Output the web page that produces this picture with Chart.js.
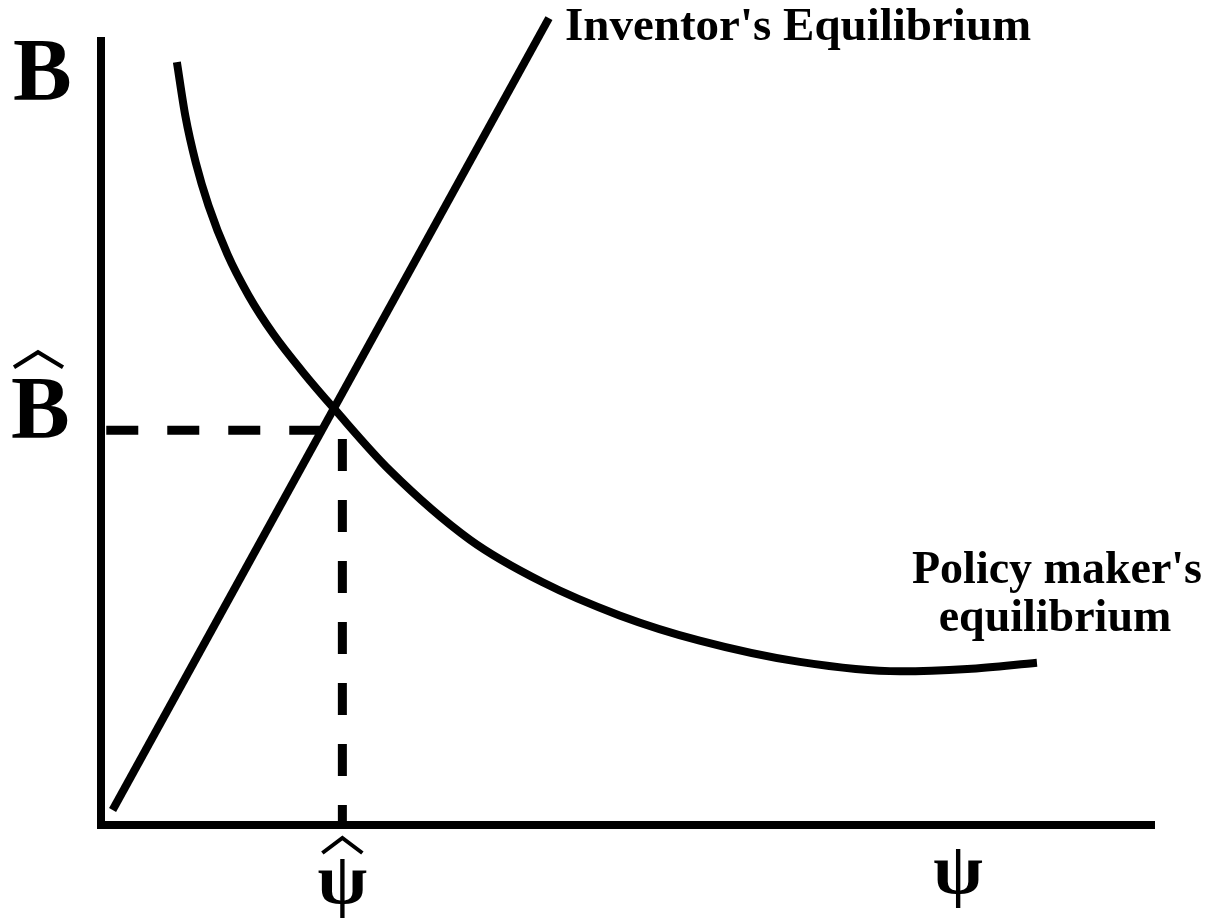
<!DOCTYPE html>
<html>
<head>
<meta charset="utf-8">
<script src="https://cdn.jsdelivr.net/npm/chart.js@4.4.0/dist/chart.umd.min.js"></script>
<style>
  html, body { margin: 0; padding: 0; background: #fff; }
  #wrap { width: 1211px; height: 919px; }
</style>
</head>
<body>
<div id="wrap"><canvas id="myChart" width="1211" height="919"></canvas></div>
<script>
// values, x = psi (0..10), y = B (0..10)
var inventorX = [0.11, 4.25];
var inventorY = [0.19, 10.24];

var policyX = [0.72, 0.80, 0.90, 1.02, 1.20, 1.40, 1.63, 1.92, 2.22, 2.74, 3.50, 4.19, 4.92, 5.68, 6.63, 7.58, 8.22, 8.88];
var policyY = [9.68, 9.00, 8.40, 7.86, 7.24, 6.72, 6.24, 5.74, 5.27, 4.50, 3.62, 3.08, 2.66, 2.34, 2.07, 1.95, 1.98, 2.06];

// equilibrium guides
var psiHat = 2.29;
var bHat = 5.01;
var guideStartX = 0.05;
var guideStartY = 4.90;

var psiLabelX = 8.13;
var bLabelY = 9.6;

function pts(xs, ys) {
    return xs.map(function (x, i) { return { x: x, y: ys[i] }; });
}

var serif = '"Liberation Serif", "Times New Roman", serif';

var labelsPlugin = {
    id: 'labels',
    beforeDatasetsDraw: function (chart) {
        var ctx = chart.ctx;
        var a = chart.chartArea;
        ctx.save();
        ctx.strokeStyle = '#000';
        ctx.lineWidth = 8;
        ctx.lineCap = 'butt';
        ctx.beginPath();
        ctx.moveTo(a.left, a.top);
        ctx.lineTo(a.left, a.bottom + 4);
        ctx.moveTo(a.left - 4, a.bottom);
        ctx.lineTo(a.right, a.bottom);
        ctx.stroke();
        ctx.restore();
    },
    afterDraw: function (chart) {
        var ctx = chart.ctx;
        var xs = chart.scales.x, ys = chart.scales.y;
        ctx.save();
        ctx.fillStyle = '#000';
        ctx.strokeStyle = '#000';
        ctx.textBaseline = 'alphabetic';

        // y axis labels
        ctx.font = 'bold 88px ' + serif;
        ctx.textAlign = 'left';
        ctx.fillText('B', 13, ys.getPixelForValue(bLabelY) + 30);
        var bhY = ys.getPixelForValue(bHat) + 7;
        ctx.fillText('B', 11, bhY);
        ctx.lineWidth = 4;
        ctx.beginPath();
        ctx.moveTo(14, bhY - 70);
        ctx.lineTo(38, bhY - 85);
        ctx.lineTo(63, bhY - 70);
        ctx.stroke();

        // x axis labels
        ctx.font = 'bold 72px ' + serif;
        ctx.textAlign = 'center';
        var phX = xs.getPixelForValue(psiHat);
        ctx.fillText('\u03c8', phX, 903);
        ctx.beginPath();
        ctx.moveTo(phX - 20, 853);
        ctx.lineTo(phX, 838);
        ctx.lineTo(phX + 20, 853);
        ctx.stroke();
        ctx.fillText('\u03c8', xs.getPixelForValue(psiLabelX), 893);

        // curve labels
        ctx.font = 'bold 47px ' + serif;
        ctx.textAlign = 'left';
        ctx.fillText("Inventor's Equilibrium", 565, 40);
        ctx.font = 'bold 46px ' + serif;
        ctx.textAlign = 'center';
        ctx.fillText("Policy maker's", 1057, 583);
        ctx.fillText('equilibrium', 1055, 631);
        ctx.restore();
    }
};

var ctx = document.getElementById('myChart');
var myChart = new Chart(ctx, {
    type: 'scatter',
    data: {
        datasets: [
            {
                label: "Inventor's Equilibrium",
                data: pts(inventorX, inventorY),
                showLine: true,
                borderColor: '#000',
                borderWidth: 8,
                pointRadius: 0,
                clip: false
            },
            {
                label: "Policy maker's equilibrium",
                data: pts(policyX, policyY),
                showLine: true,
                borderColor: '#000',
                borderWidth: 8,
                pointRadius: 0,
                cubicInterpolationMode: 'monotone',
                clip: false
            },
            {
                label: 'B hat',
                data: pts([guideStartX, psiHat], [bHat, bHat]),
                showLine: true,
                borderColor: '#000',
                borderWidth: 9,
                borderDash: [32, 29],
                pointRadius: 0,
                clip: false
            },
            {
                label: 'psi hat',
                data: pts([psiHat, psiHat], [guideStartY, 0]),
                showLine: true,
                borderColor: '#000',
                borderWidth: 9,
                borderDash: [32, 29],
                pointRadius: 0,
                clip: false
            }
        ]
    },
    options: {
        responsive: false,
        animation: false,
        layout: { padding: { left: 101, right: 56, top: 37, bottom: 94 } },
        plugins: {
            legend: { display: false },
            tooltip: { enabled: false }
        },
        scales: {
            x: { type: 'linear', min: 0, max: 10, display: false },
            y: { type: 'linear', min: 0, max: 10, display: false }
        }
    },
    plugins: [labelsPlugin]
});
</script>
</body>
</html>
